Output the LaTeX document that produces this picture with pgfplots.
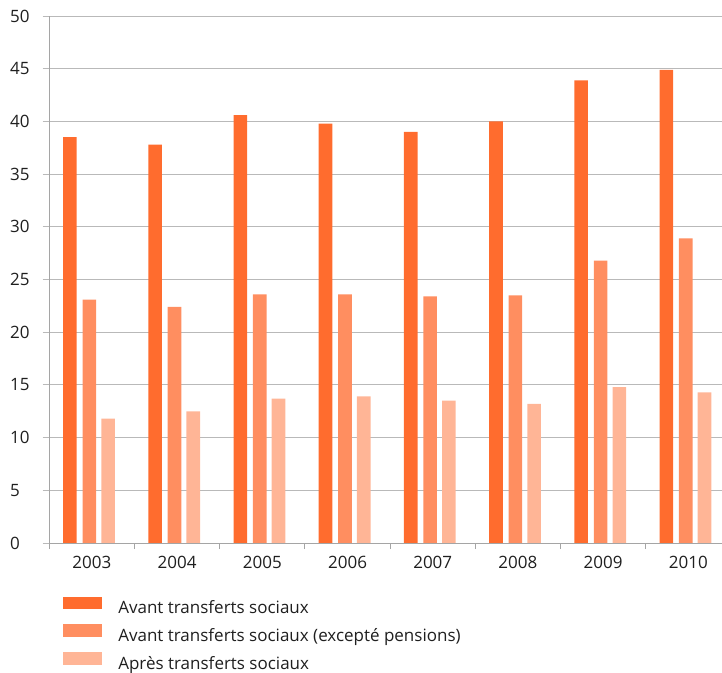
\documentclass[border=0pt]{standalone}
\usepackage{pgfplots}
\pgfplotsset{compat=1.18}
\usepackage{fontspec}
\setmainfont{Open Sans}

\definecolor{cA}{RGB}{255,108,46}
\definecolor{cB}{RGB}{255,142,96}
\definecolor{cC}{RGB}{255,181,150}
\definecolor{gridc}{RGB}{185,185,185}
\definecolor{axisc}{RGB}{165,165,165}

\begin{document}
\fontsize{17bp}{20bp}\selectfont
\begin{tikzpicture}
\useasboundingbox (0,0) rectangle (722bp,673bp);
\begin{axis}[
  at={(49.3bp,130bp)}, anchor=south west,
  scale only axis, width=672.7bp, height=527bp,
  xmin=-0.5, xmax=7.395, ymin=0, ymax=50,
  axis lines*=left,
  axis line style={axisc, line width=0.9bp},
  tick align=outside,
  ybar, bar width=0.16,
  ytick={0,5,...,50},
  ymajorgrids, grid style={gridc, line width=0.9bp},
  major tick length=6.6bp,
  y tick style={gridc, line width=0.9bp},
  xtick={0,...,7},
  xticklabels={2003,2004,2005,2006,2007,2008,2009,2010},
  major x tick style={draw=none},
  minor xtick={-0.5,0.5,...,6.5},
  minor tick length=6bp,
  minor x tick style={axisc, line width=0.9bp},
  /pgf/number format/assume math mode=true,
  yticklabel style={anchor=west, xshift=-38.5bp},
  xticklabel style={yshift=-1bp},
  ticklabel style={font=\fontsize{17bp}{20bp}\selectfont, text=black!88},
  legend style={at={(0,0)}, anchor=north west, xshift=14bp, yshift=-53.5bp,
    draw=none, inner sep=0pt, outer sep=0pt, column sep=16bp, row sep=6.9bp,
    font=\fontsize{17bp}{20bp}\selectfont, text=black!88,
    nodes={inner sep=0pt, text height=13bp, text depth=3.5bp}},
  legend cell align=left,
  legend image code/.code={\path[#1, draw=none] (0bp,0bp) rectangle (39bp,12.7bp);},
]
% Avant transferts sociaux
\addplot[fill=cA, draw=none, bar shift=-0.258] coordinates {
  (0,38.5) (1,37.8) (2,40.6) (3,39.8) (4,39.0) (5,40.0) (6,43.9) (7,44.9)};
% Avant transferts sociaux (excepte pensions)
\addplot[fill=cB, draw=none, bar shift=-0.03] coordinates {
  (0,23.1) (1,22.4) (2,23.6) (3,23.6) (4,23.4) (5,23.5) (6,26.8) (7,28.9)};
% Apres transferts sociaux
\addplot[fill=cC, draw=none, bar shift=0.19] coordinates {
  (0,11.8) (1,12.5) (2,13.7) (3,13.9) (4,13.5) (5,13.2) (6,14.8) (7,14.3)};
\legend{Avant transferts sociaux,
        Avant transferts sociaux (excepté pensions),
        Après transferts sociaux}
\end{axis}
\end{tikzpicture}
\end{document}
